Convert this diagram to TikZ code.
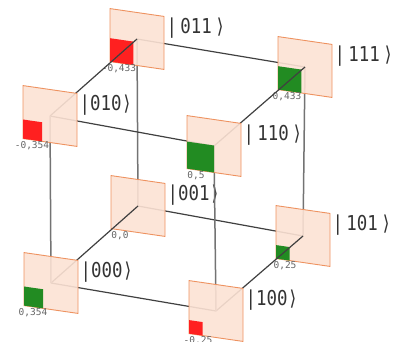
\documentclass[tikz,border=0pt]{standalone}
\usepackage{fontspec}
\newfontfamily\ketfont[FakeStretch=0.85,WordSpace=0.3]{DejaVu Sans Mono}
\newfontfamily\valfont{DejaVu Sans Mono}
\definecolor{cardfill}{RGB}{252,226,212}
\definecolor{cardedge}{RGB}{238,146,96}
\definecolor{ampgreen}{RGB}{34,139,34}
\definecolor{ampred}{RGB}{255,32,32}

\begin{document}
\begin{tikzpicture}[x=1pt, y=-1pt,
    card/.style={draw=cardedge, fill=cardfill, fill opacity=0.9, line width=0.9pt, minimum width=54pt, minimum height=53pt, inner sep=0pt, transform shape},
    ket/.style={anchor=west, inner sep=0pt, text=black!80, font=\ketfont\fontsize{20.5}{22}\selectfont},
    val/.style={anchor=north, inner sep=0pt, text=black!60, font=\valfont\fontsize{9.5}{10}\selectfont},
    cubeline/.style={draw=black!75, line width=1.2pt},
    upline/.style={draw=black!55, line width=1.5pt}]
          \useasboundingbox (0,0) rectangle (397,341);
          \clip (0,0) rectangle (397,341);

          \coordinate (p011) at (137, 39);
          \coordinate (p111) at (305, 67);
          \coordinate (p001) at (138, 206);
          \coordinate (p101) at (303, 236);
          \coordinate (p010) at (50, 116);
          \coordinate (p110) at (214, 146);
          \coordinate (p000) at (51, 283);
          \coordinate (p100) at (216, 311);

          \draw[cubeline] (p011) -- (p111);
          \draw[cubeline] (p001) -- (p101);
          \draw[upline] (p011) -- (p001);
          \draw[upline] (p111) -- (p101);

          \begin{scope}[shift={(p011)}, yslant=-0.145]
            \node[card] (k011) at (0, 0) {};
            \fill[ampred] (-27, 26.5) rectangle ++(23.4, -23.4);
            \node[val] (v011) at (-18, 27.5) {-0,433};
            \node[ket] (l011) at (29.5, -15) {| 011 ⟩};
          \end{scope}

          \begin{scope}[shift={(p111)}, yslant=-0.145]
            \node[card] (k111) at (0, 0) {};
            \fill[ampgreen] (-27, 26.5) rectangle ++(23.4, -23.4);
            \node[val] (v111) at (-18, 27.5) {0,433};
            \node[ket] (l111) at (29.5, -15) {| 111 ⟩};
          \end{scope}

          \begin{scope}[shift={(p001)}, yslant=-0.145]
            \node[card] (k001) at (0, 0) {};
            \node[val] (v001) at (-18, 27.5) {0,0};
            \node[ket] (l001) at (29.5, -15) {|001⟩};
          \end{scope}

          \begin{scope}[shift={(p101)}, yslant=-0.145]
            \node[card] (k101) at (0, 0) {};
            \fill[ampgreen] (-27, 26.5) rectangle ++(13.5, -13.5);
            \node[val] (v101) at (-18, 27.5) {0,25};
            \node[ket] (l101) at (29.5, -15) {| 101 ⟩};
          \end{scope}

          \draw[cubeline] (p010) -- (p011);
          \draw[cubeline] (p110) -- (p111);
          \draw[cubeline] (p000) -- (p001);
          \draw[cubeline] (p100) -- (p101);
          \draw[cubeline] (p010) -- (p110);
          \draw[cubeline] (p000) -- (p100);
          \draw[upline] (p010) -- (p000);
          \draw[upline] (p110) -- (p100);

          \begin{scope}[shift={(p010)}, yslant=-0.145]
            \node[card] (k010) at (0, 0) {};
            \fill[ampred] (-27, 26.5) rectangle ++(19.1, -19.1);
            \node[val] (v010) at (-18, 27.5) {-0,354};
            \node[ket] (l010) at (29.5, -15) {|010⟩};
          \end{scope}

          \begin{scope}[shift={(p110)}, yslant=-0.145]
            \node[card] (k110) at (0, 0) {};
            \fill[ampgreen] (-27, 26.5) rectangle ++(27, -27);
            \node[val] (v110) at (-18, 27.5) {0,5};
            \node[ket] (l110) at (29.5, -15) {| 110 ⟩};
          \end{scope}

          \begin{scope}[shift={(p000)}, yslant=-0.145]
            \node[card] (k000) at (0, 0) {};
            \fill[ampgreen] (-27, 26.5) rectangle ++(19.1, -19.1);
            \node[val] (v000) at (-18, 27.5) {0,354};
            \node[ket] (l000) at (29.5, -15) {|000⟩};
          \end{scope}

          \begin{scope}[shift={(p100)}, yslant=-0.145]
            \node[card] (k100) at (0, 0) {};
            \fill[ampred] (-27, 26.5) rectangle ++(13.5, -13.5);
            \node[val] (v100) at (-18, 27.5) {-0,25};
            \node[ket] (l100) at (29.5, -15) {|100⟩};
          \end{scope}
        \end{tikzpicture}
\end{document}
